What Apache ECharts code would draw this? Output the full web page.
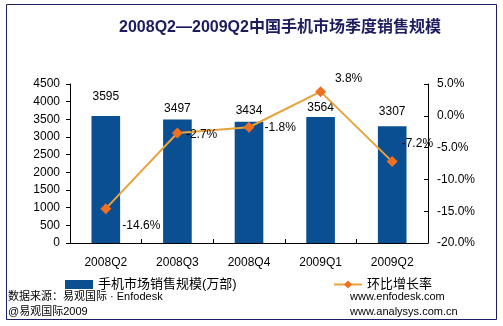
<!DOCTYPE html>
<html><head><meta charset="utf-8">
<script src="https://cdn.jsdelivr.net/npm/echarts@6/dist/echarts.min.js"></script>
<style>html,body{margin:0;padding:0;background:#fff}#c{width:503px;height:326px}</style>
</head><body><div id="c"></div>
<script>
var categories = ['2008Q2','2008Q3','2008Q4','2009Q1','2009Q2'];
var salesVolume = [3595, 3497, 3434, 3564, 3307];
var growthRate = [-14.6, -2.7, -1.8, 3.8, -7.2];
var leftTicks = [0, 4500, 500];
var rightTicks = [-20, 5, 5];

var FONT = '"Liberation Sans", Arial, "Noto Sans CJK SC", sans-serif';
var barOffsets = [[0,-8],[0,0],[0,0],[0,2],[0,-3]];
var lineLabelCfg = [
  {position:'right', offset:[6,17]},
  {position:'right', offset:[-2,2]},
  {position:'right', offset:[5,0]},
  {position:'top', offset:[28,4]},
  {position:'right', offset:[-1,-18]}
];
var chart = echarts.init(document.getElementById('c'), null, {renderer:'canvas'});
chart.setOption({
  animation:false,
  textStyle:{fontFamily:FONT},
  title:{text:'2008Q2—2009Q2中国手机市场季度销售规模', left:275, textAlign:'center', top:15,
    textStyle:{fontSize:16, fontWeight:'bold', color:'#1c1c5e', fontFamily:FONT}},
  grid:{left:70, right:75, top:84, bottom:83},
  legend:[
    {data:[{name:'手机市场销售规模(万部)', icon:'rect'}], left:60, top:273, itemWidth:28, itemHeight:9, itemGap:4,
      textStyle:{fontSize:13, color:'#000', fontFamily:FONT}},
    {data:[{name:'环比增长率'}], left:328, top:273, itemWidth:28, itemHeight:10,
      textStyle:{fontSize:13, color:'#000', fontFamily:FONT}}
  ],
  xAxis:{type:'category', data:categories,
    axisLine:{lineStyle:{color:'#000', width:1}},
    axisTick:{show:true, inside:true, length:4, lineStyle:{color:'#000'}},
    axisLabel:{color:'#000', fontSize:12, margin:14, fontFamily:FONT}},
  yAxis:[
    {type:'value', min:leftTicks[0], max:leftTicks[1], interval:leftTicks[2],
      axisLine:{show:true, lineStyle:{color:'#000'}},
      axisTick:{show:true, length:4, lineStyle:{color:'#000'}},
      splitLine:{show:false},
      axisLabel:{color:'#000', fontSize:12, margin:10, fontFamily:FONT,
        formatter:function(v){return String(v);}}},
    {type:'value', min:rightTicks[0], max:rightTicks[1], interval:rightTicks[2],
      axisLine:{show:true, lineStyle:{color:'#000'}},
      axisTick:{show:true, inside:true, length:4, lineStyle:{color:'#000'}},
      splitLine:{show:false},
      axisLabel:{color:'#000', fontSize:12, margin:9, fontFamily:FONT,
        formatter:function(v){return v.toFixed(1)+'%';}}}
  ],
  series:[
    {name:'手机市场销售规模(万部)', type:'bar', barWidth:'40%', yAxisIndex:0,
      itemStyle:{color:'#0b4f93'},
      data:salesVolume.map(function(v,i){return {value:v, label:{offset:barOffsets[i]}};}),
      label:{show:true, position:'top', color:'#000', fontSize:12, fontFamily:FONT}},
    {name:'环比增长率', type:'line', yAxisIndex:1, symbol:'diamond', symbolSize:11,
      lineStyle:{color:'#e8a23c', width:2},
      itemStyle:{color:'#f07020', borderWidth:0},
      data:growthRate.map(function(v,i){return {value:v, label:lineLabelCfg[i]};}),
      label:{show:true, color:'#000', fontSize:12, fontFamily:FONT,
        formatter:function(p){return p.value.toFixed(1)+'%';}}}
  ],
  graphic:[
    {type:'rect', shape:{x:6.5, y:4.5, width:490, height:315}, style:{fill:'none', stroke:'#1c1c5e', lineWidth:1}, silent:true, z:-1},
    {type:'text', left:8, top:291, style:{text:'数据来源：易观国际 · Enfodesk', fontSize:11, fill:'#000', fontFamily:FONT}},
    {type:'text', left:8, top:306, style:{text:'@易观国际2009', fontSize:11, fill:'#000', fontFamily:FONT}},
    {type:'text', left:350, top:291, style:{text:'www.enfodesk.com', fontSize:11, fill:'#000', fontFamily:FONT}},
    {type:'text', left:350, top:306, style:{text:'www.analysys.com.cn', fontSize:11, fill:'#000', fontFamily:FONT}}
  ]
});
</script></body></html>
